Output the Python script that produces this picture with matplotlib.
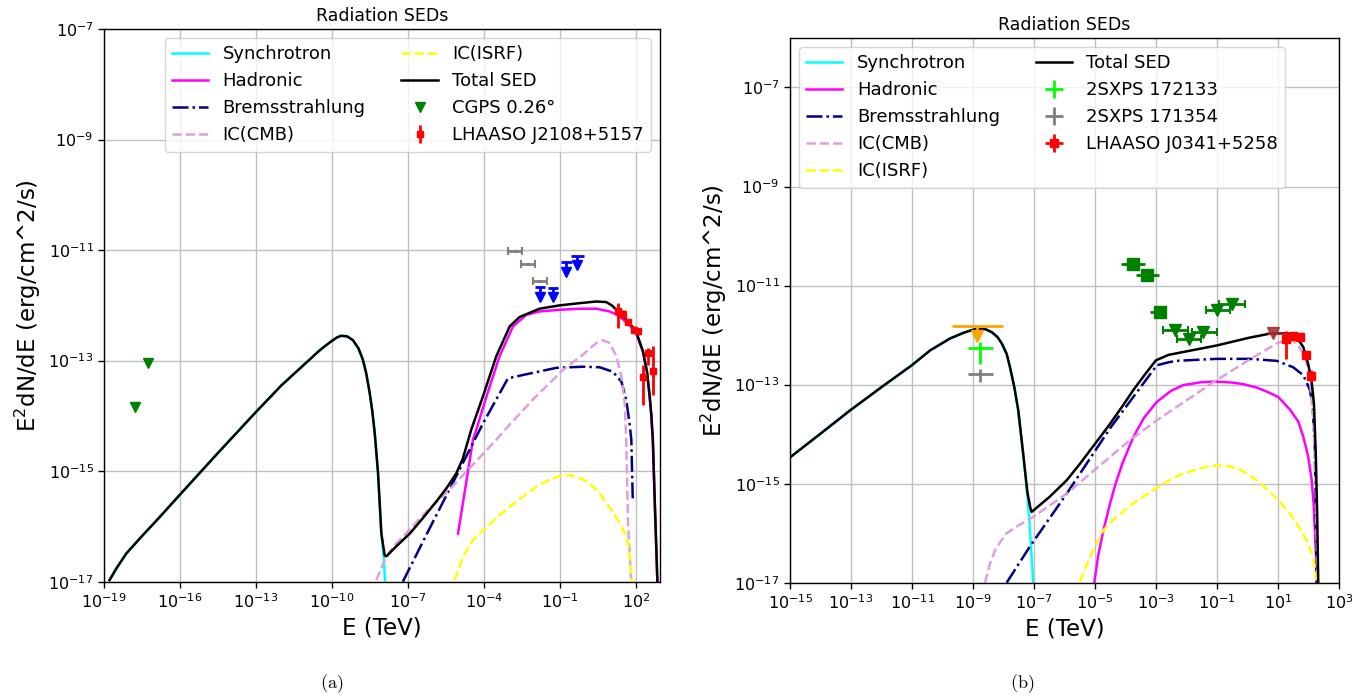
import numpy as np
import matplotlib
matplotlib.use("Agg")
import matplotlib.pyplot as plt
from matplotlib.ticker import NullLocator

# All values are log10(E / TeV) and log10(E^2 dN/dE / erg cm^-2 s^-1)

# ---------------- panel (a) ----------------
a_sync_logE = [-18.78, -18.51, -18.12, -17.59, -16.80, -16.01, -14.5, -12.98, -12.0, -11.0, -10.5, -10.2,
               -9.96, -9.8, -9.63, -9.4, -9.17, -8.95, -8.78, -8.65, -8.51, -8.41, -8.31, -8.18, -8.05,
               -7.95, -7.90]
a_sync_logF = [-16.97, -16.76, -16.49, -16.22, -15.83, -15.43, -14.67, -13.92, -13.45, -13.03, -12.82, -12.71,
               -12.63, -12.58, -12.55, -12.56, -12.63, -12.78, -12.98, -13.22, -13.58, -13.90, -14.31, -15.03,
               -16.12, -16.60, -17.0]

a_had_logE = [-5.02, -4.43, -4.30, -3.90, -3.38, -2.85, -2.32, -1.80, -1.01, -0.22, 0.44, 0.96, 1.16, 1.36,
              1.56, 1.75, 2.02, 2.28, 2.44, 2.54, 2.61, 2.67, 2.75, 2.85]
a_had_logF = [-16.13, -14.43, -14.25, -13.65, -12.92, -12.38, -12.17, -12.11, -12.08, -12.06, -12.06, -12.11,
              -12.15, -12.20, -12.28, -12.36, -12.51, -12.84, -13.21, -13.63, -13.99, -14.44, -15.61, -17.0]

a_brem_logE = [-7.20, -6.27, -4.96, -4.04, -3.05, -2.46, -1.14, -0.09, 0.57, 1.09, 1.43, 1.62, 1.75, 1.82, 1.88]
a_brem_logF = [-17.0, -16.15, -14.97, -14.14, -13.32, -13.26, -13.13, -13.11, -13.12, -13.20, -13.38, -13.71,
               -14.13, -14.43, -15.55]

a_cmb_logE = [-8.25, -7.92, -7.59, -7.33, -6.27, -5.35, -3.51, -3.11, -2.06, -0.88, -0.09, 0.44, 0.70, 0.96,
              1.23, 1.43, 1.56, 1.62, 1.69, 1.82]
a_cmb_logF = [-16.97, -16.61, -16.37, -16.25, -15.73, -15.33, -14.43, -14.22, -13.70, -13.17, -12.89, -12.68,
              -12.63, -12.68, -12.92, -13.29, -13.77, -14.43, -15.94, -17.0]

a_isrf_logE = [-5.16, -4.96, -4.83, -4.43, -4.04, -3.51, -2.98, -2.46, -1.93, -1.40, -1.01, -0.61, -0.22,
               0.17, 0.57, 0.83, 1.09, 1.36, 1.56, 1.69, 1.78, 1.83]
a_isrf_logF = [-16.97, -16.73, -16.55, -16.25, -16.07, -15.85, -15.64, -15.46, -15.28, -15.15, -15.09, -15.07,
               -15.12, -15.22, -15.40, -15.58, -15.73, -15.94, -16.12, -16.30, -16.61, -17.0]

a_tot_logE = [-18.78, -18.51, -18.12, -17.59, -16.80, -16.01, -14.5, -12.98, -12.0, -11.0, -10.5, -10.2,
              -9.96, -9.8, -9.63, -9.4, -9.17, -8.95, -8.78, -8.65, -8.51, -8.41, -8.31, -8.18, -8.05,
              -7.92, -7.85, -7.46, -6.93, -6.41, -5.88, -5.48, -5.09, -4.83, -4.50, -4.04, -3.51, -2.98,
              -2.59, -1.80, -1.01, -0.22, 0.44, 0.83, 1.05, 1.23, 1.45, 1.62, 1.85, 2.02, 2.28, 2.44, 2.54,
              2.61, 2.67, 2.75, 2.85]
a_tot_logF = [-16.97, -16.76, -16.49, -16.22, -15.83, -15.43, -14.67, -13.92, -13.45, -13.03, -12.82, -12.71,
              -12.63, -12.58, -12.55, -12.56, -12.63, -12.78, -12.98, -13.22, -13.58, -13.90, -14.31, -15.03,
              -16.12, -16.52, -16.54, -16.36, -16.13, -15.85, -15.55, -15.31, -15.04, -14.77, -14.25, -13.65,
              -12.92, -12.38, -12.21, -12.06, -12.00, -11.96, -11.93, -11.94, -12.00, -12.08, -12.17, -12.26,
              -12.38, -12.49, -12.83, -13.20, -13.62, -13.98, -14.43, -15.60, -17.0]

cgps_logE = [-17.79, -17.26]
cgps_logF = [-13.84, -13.04]

a_gray_logE = [-2.77, -2.26, -1.79]
a_gray_logF = [-11.02, -11.26, -11.56]
a_gray_lo = [-3.05, -2.52, -2.06]
a_gray_hi = [-2.48, -2.00, -1.51]

a_blue_logE = [-1.80, -1.27, -0.75, -0.31]
a_blue_logF = [-11.67, -11.68, -11.22, -11.10]
a_blue_lo = [-2.00, -1.48, -0.97, -0.55]
a_blue_hi = [-1.57, -1.06, -0.52, -0.06]

lhaaso_a_logE = [1.29, 1.49, 1.69, 1.91, 2.08, 2.48, 2.28, 2.67]
lhaaso_a_logF = [-12.11, -12.16, -12.30, -12.44, -12.47, -12.86, -13.30, -13.18]
lhaaso_a_lo = [-12.41, -12.24, -12.36, -12.50, -12.53, -13.07, -13.80, -13.62]
lhaaso_a_hi = [-11.96, -12.08, -12.24, -12.38, -12.41, -12.77, -13.07, -12.74]

# ---------------- panel (b) ----------------
b_sync_logE = [-15.0, -14.0, -13.03, -12.0, -11.01, -10.41, -9.76, -9.3, -8.99, -8.8, -8.6, -8.39, -8.2,
               -8.06, -7.9, -7.79, -7.65, -7.52, -7.36, -7.22, -7.15, -7.09, -7.03]
b_sync_logF = [-14.47, -13.99, -13.52, -13.05, -12.61, -12.31, -12.07, -11.95, -11.89, -11.87, -11.88, -11.94,
               -12.04, -12.17, -12.38, -12.65, -13.05, -13.52, -14.40, -15.25, -15.80, -16.40, -17.0]

b_had_logE = [-5.03, -4.90, -4.73, -4.52, -4.33, -4.10, -3.75, -3.40, -2.98, -2.50, -2.11, -1.50, -1.02,
              -0.50, -0.15, 0.30, 0.73, 1.00, 1.38, 1.66, 1.82, 1.98, 2.09, 2.16, 2.20, 2.24, 2.26]
b_had_logF = [-17.0, -16.45, -15.94, -15.42, -15.0, -14.58, -14.06, -13.67, -13.35, -13.12, -13.01, -12.95,
              -12.94, -12.96, -12.99, -13.06, -13.17, -13.25, -13.50, -13.75, -14.05, -14.45, -14.90, -15.40,
              -15.94, -16.50, -17.0]

b_brem_logE = [-7.90, -7.14, -5.93, -4.51, -3.75, -2.98, -2.60, -2.33, -1.02, 0.07, 0.95, 1.49, 1.82, 2.04,
               2.13, 2.20, 2.26]
b_brem_logF = [-17.0, -16.27, -15.20, -13.88, -13.25, -12.61, -12.55, -12.52, -12.48, -12.48, -12.52, -12.65,
               -12.81, -13.11, -13.45, -14.30, -17.0]

b_cmb_logE = [-8.61, -8.45, -8.25, -7.90, -7.50, -7.03, -5.93, -4.51, -3.86, -2.98, -1.02, 0.07, 0.95, 1.38,
              1.66, 1.88, 2.04, 2.15, 2.23, 2.28]
b_cmb_logF = [-17.0, -16.62, -16.30, -16.0, -15.84, -15.67, -15.20, -14.46, -14.12, -13.72, -12.91, -12.49,
              -12.17, -12.07, -12.21, -12.44, -12.91, -13.72, -15.06, -16.98]

b_isrf_logE = [-5.50, -5.28, -5.06, -4.73, -4.30, -3.75, -3.20, -2.66, -2.20, -1.67, -1.35, -1.02, -0.70,
               -0.36, 0.0, 0.29, 0.70, 1.06, 1.35, 1.60, 1.80, 1.98, 2.10, 2.20, 2.26]
b_isrf_logF = [-16.98, -16.64, -16.34, -15.94, -15.67, -15.40, -15.17, -14.96, -14.82, -14.71, -14.66, -14.63,
               -14.64, -14.69, -14.80, -14.93, -15.15, -15.37, -15.58, -15.80, -16.0, -16.21, -16.42, -16.68,
               -16.98]

b_tot_logE = [-15.0, -14.0, -13.03, -12.0, -11.01, -10.41, -9.76, -9.3, -8.99, -8.8, -8.6, -8.39, -8.2,
              -8.06, -7.9, -7.79, -7.65, -7.52, -7.36, -7.22, -7.12, -7.08, -6.5, -5.93, -5.5, -5.17, -4.8,
              -4.51, -4.1, -3.75, -3.4, -3.01, -2.60, -1.02, 0.07, 0.73, 1.27, 1.60, 1.82, 1.98, 2.09, 2.17,
              2.23, 2.28, 2.31]
b_tot_logF = [-14.47, -13.99, -13.52, -13.05, -12.61, -12.31, -12.07, -11.95, -11.89, -11.87, -11.88, -11.94,
              -12.04, -12.17, -12.38, -12.65, -13.05, -13.52, -14.39, -15.18, -15.50, -15.57, -15.27, -14.93,
              -14.60, -14.33, -14.03, -13.79, -13.43, -13.11, -12.82, -12.51, -12.40, -12.21, -12.05, -11.97,
              -11.96, -12.04, -12.24, -12.58, -12.91, -13.38, -14.39, -15.74, -16.98]

xray_ul_logE = [-8.86]
xray_ul_logF = [-11.82]
xray_ul_lo = [-9.70]
xray_ul_hi = [-8.01]

sxps_logE = [-8.77]
sxps_lo = [-9.16]
sxps_hi = [-8.34]
sxps1_logF = [-12.26]
sxps1_ylo = [-12.59]
sxps1_yhi = [-12.14]
sxps2_logF = [-12.79]
sxps2_ylo = [-12.95]
sxps2_yhi = [-12.68]

lat_logE = [-3.77, -3.31, -2.88]
lat_logF = [-10.57, -10.78, -11.54]
lat_lo = [-4.14, -3.66, -3.20]
lat_hi = [-3.37, -2.90, -2.75]

lat_ul_logE = [-2.38, -1.93, -1.46, -1.00, -0.53]
lat_ul_logF = [-11.89, -12.07, -11.94, -11.50, -11.37]
lat_ul_lo = [-2.77, -2.31, -1.84, -1.37, -0.93]
lat_ul_hi = [-1.95, -1.54, -1.02, -0.58, -0.09]

brown_logE = [0.84]
brown_logF = [-11.96]
brown_lo = [0.62]
brown_hi = [1.27]

lhaaso_b_logE = [1.27, 1.47, 1.71, 1.91, 2.07]
lhaaso_b_logF = [-12.07, -12.01, -12.04, -12.40, -12.82]
lhaaso_b_lo = [-12.48, -12.07, -12.10, -12.46, -12.94]
lhaaso_b_hi = [-11.91, -11.95, -11.98, -12.34, -12.70]
lhaaso_b_dx = 0.07


def pw(v):
    return np.power(10.0, np.asarray(v, dtype=float))


def bounds(center, lo, hi):
    # asymmetric error sizes in linear units from log10 bounds
    c = pw(center)
    return np.vstack([c - pw(lo), pw(hi) - c])


def upper_limit(ax, logE, logF, lo, hi, color, drop, ms=8):
    # horizontal band at the limit, short stem and a downward triangle
    x, y = pw(logE), pw(logF)
    ax.errorbar(x, y, xerr=bounds(logE, lo, hi), fmt="none", ecolor=color, elinewidth=2)
    y_tip = pw(np.asarray(logF) - drop)
    ax.vlines(x, y_tip, y, colors=color, lw=2)
    ax.plot(x, y_tip, "v", color=color, ms=ms, ls="none")


def model_curves(ax, d):
    ax.plot(pw(d["sync"][0]), pw(d["sync"][1]), color="cyan", lw=1.8, label="Synchrotron")
    ax.plot(pw(d["had"][0]), pw(d["had"][1]), color="magenta", lw=1.8, label="Hadronic")
    ax.plot(pw(d["brem"][0]), pw(d["brem"][1]), color="navy", lw=1.8, ls="-.", label="Bremsstrahlung")
    ax.plot(pw(d["cmb"][0]), pw(d["cmb"][1]), color="plum", lw=1.8, ls="--", label="IC(CMB)")
    ax.plot(pw(d["isrf"][0]), pw(d["isrf"][1]), color="yellow", lw=1.8, ls="--", label="IC(ISRF)")
    ax.plot(pw(d["tot"][0]), pw(d["tot"][1]), color="black", lw=1.8, label="Total SED")


def style_axes(ax, xticks, yticks, xlim, ylim):
    ax.set_xscale("log")
    ax.set_yscale("log")
    ax.set_xlim(*xlim)
    ax.set_ylim(*ylim)
    ax.set_xticks(xticks)
    ax.set_yticks(yticks)
    ax.xaxis.set_minor_locator(NullLocator())
    ax.yaxis.set_minor_locator(NullLocator())
    ax.grid(True, color="#bfbfbf", lw=1.0)
    ax.set_axisbelow(True)
    ax.tick_params(labelsize=11.5, width=1.0, length=4)
    for s in ax.spines.values():
        s.set_linewidth(1.0)
    ax.set_title("Radiation SEDs", fontsize=12.5)
    ax.set_xlabel("E (TeV)", fontsize=16.5)
    ax.set_ylabel(r"E$^2$dN/dE (erg/cm^2/s)", fontsize=16.5)


fig = plt.figure(figsize=(13.68, 6.98), dpi=100)
ax_a = fig.add_axes([0.0760, 0.1666, 0.4064, 0.7918])
ax_b = fig.add_axes([0.5775, 0.1652, 0.4015, 0.7804])

# ---- (a) ----
model_curves(ax_a, {
    "sync": (a_sync_logE, a_sync_logF), "had": (a_had_logE, a_had_logF),
    "brem": (a_brem_logE, a_brem_logF), "cmb": (a_cmb_logE, a_cmb_logF),
    "isrf": (a_isrf_logE, a_isrf_logF), "tot": (a_tot_logE, a_tot_logF),
})
ax_a.plot(pw(cgps_logE), pw(cgps_logF), "v", color="green", ms=7, ls="none", label="CGPS 0.26°")
ax_a.errorbar(pw(lhaaso_a_logE), pw(lhaaso_a_logF), yerr=bounds(lhaaso_a_logF, lhaaso_a_lo, lhaaso_a_hi),
              fmt="s", color="red", ms=5, elinewidth=2, label="LHAASO J2108+5157")
ax_a.errorbar(pw(a_gray_logE), pw(a_gray_logF), xerr=bounds(a_gray_logE, a_gray_lo, a_gray_hi),
              fmt=".", color="gray", ms=3, elinewidth=2, capsize=3, capthick=1.5)
upper_limit(ax_a, a_blue_logE, a_blue_logF, a_blue_lo, a_blue_hi, "blue", 0.17, ms=7)

style_axes(ax_a, pw(np.arange(-19, 3, 3)), pw(np.arange(-17, -6, 2)),
           (1e-19, pw(2.95)), (1e-17, 1e-7))
ax_a.legend(loc="upper right", ncol=2, fontsize=13, numpoints=1)

# ---- (b) ----
model_curves(ax_b, {
    "sync": (b_sync_logE, b_sync_logF), "had": (b_had_logE, b_had_logF),
    "brem": (b_brem_logE, b_brem_logF), "cmb": (b_cmb_logE, b_cmb_logF),
    "isrf": (b_isrf_logE, b_isrf_logF), "tot": (b_tot_logE, b_tot_logF),
})
ax_b.errorbar(pw(sxps_logE), pw(sxps1_logF), xerr=bounds(sxps_logE, sxps_lo, sxps_hi),
              yerr=bounds(sxps1_logF, sxps1_ylo, sxps1_yhi), fmt="none", ecolor="lime", elinewidth=2,
              label="2SXPS 172133")
ax_b.errorbar(pw(sxps_logE), pw(sxps2_logF), xerr=bounds(sxps_logE, sxps_lo, sxps_hi),
              yerr=bounds(sxps2_logF, sxps2_ylo, sxps2_yhi), fmt="none", ecolor="gray", elinewidth=2,
              label="2SXPS 171354")
ax_b.errorbar(pw(lhaaso_b_logE), pw(lhaaso_b_logF),
              xerr=bounds(lhaaso_b_logE, np.array(lhaaso_b_logE) - lhaaso_b_dx, np.array(lhaaso_b_logE) + lhaaso_b_dx),
              yerr=bounds(lhaaso_b_logF, lhaaso_b_lo, lhaaso_b_hi),
              fmt="s", color="red", ms=6, elinewidth=2, label="LHAASO J0341+5258")
upper_limit(ax_b, xray_ul_logE, xray_ul_logF, xray_ul_lo, xray_ul_hi, "orange", 0.2, ms=9)
ax_b.errorbar(pw(lat_logE), pw(lat_logF), xerr=bounds(lat_logE, lat_lo, lat_hi),
              fmt="s", color="green", ms=8, elinewidth=2)
ax_b.errorbar(pw(lat_ul_logE), pw(lat_ul_logF), xerr=bounds(lat_ul_logE, lat_ul_lo, lat_ul_hi),
              fmt="v", color="green", ms=8, elinewidth=2, capsize=3, capthick=1.5)
ax_b.errorbar(pw(brown_logE), pw(brown_logF), xerr=bounds(brown_logE, brown_lo, brown_hi),
              fmt="v", color="brown", ms=9, elinewidth=2, alpha=0.85)

style_axes(ax_b, pw(np.arange(-15, 4, 2)), pw(np.arange(-17, -6, 2)),
           (1e-15, 1e3), (1e-17, 1e-6))
ax_b.legend(loc="upper left", ncol=2, fontsize=13, numpoints=1)

fig.text(0.2427, 0.02, r"$\mathrm{(a)}$", ha="center", va="center", fontsize=13, math_fontfamily="cm")
fig.text(0.7471, 0.02, r"$\mathrm{(b)}$", ha="center", va="center", fontsize=13, math_fontfamily="cm")

fig.savefig("out.png", dpi=100)
